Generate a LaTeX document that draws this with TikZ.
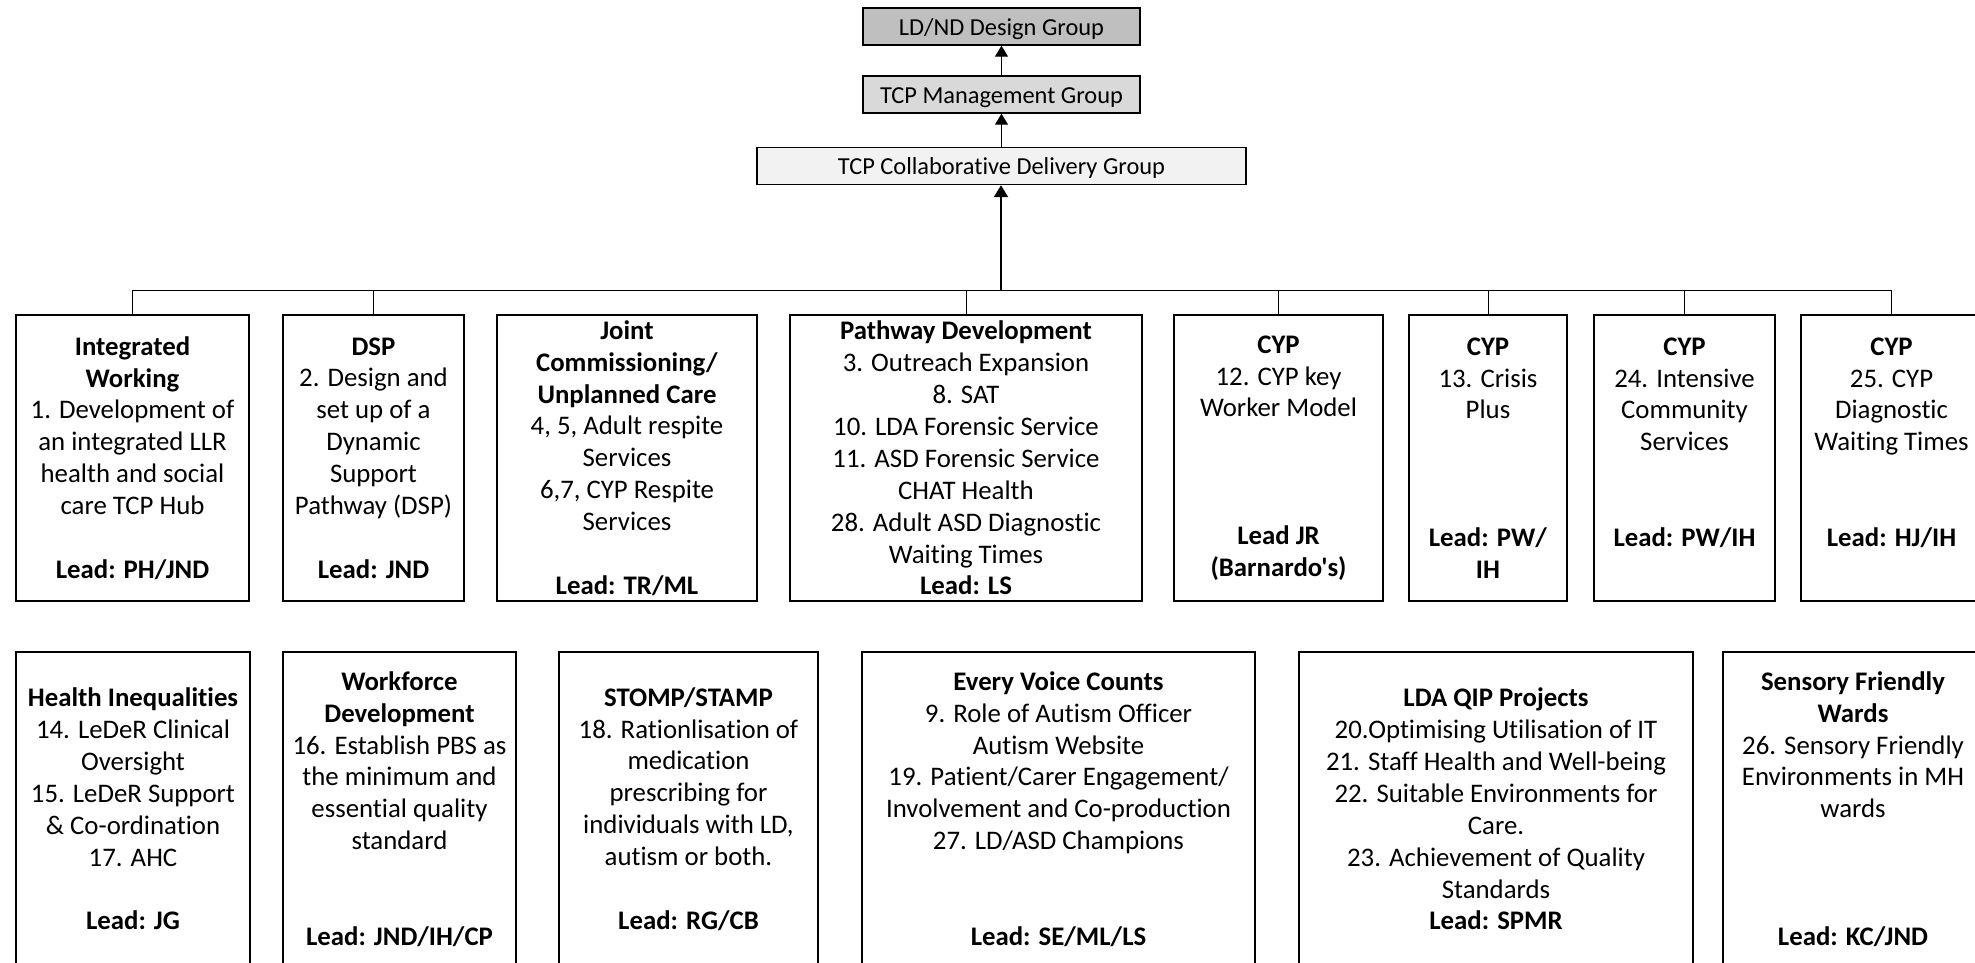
\documentclass[tikz,border=0pt]{standalone}
\usepackage{fontspec}
\setmainfont{Carlito}[Ligatures={CommonOff,TeXOff}]
\usetikzlibrary{arrows.meta}

\definecolor{grpdark}{HTML}{BFBFBF}
\definecolor{grpmid}{HTML}{D9D9D9}
\definecolor{grplight}{HTML}{F2F2F2}

\tikzset{
    grpbox/.style={draw, line width=1.4pt, inner sep=0pt, minimum height=37pt,
        text height=18pt, text depth=1pt, font=\fontsize{24.4}{29.2}\selectfont},
    wsbox/.style={draw, line width=1.4pt, inner sep=0pt, align=center,
        font=\fontsize{26.8}{31.9}\selectfont},
    toprow/.style={wsbox, minimum height=286pt},
    lowrow/.style={wsbox, minimum height=314pt},
    conn/.style={line width=1pt},
    uparrow/.style={line width=1.2pt, -{Triangle[width=13pt,length=11pt]}},
}

\begin{document}
\begin{tikzpicture}[x=1pt, y=-1pt]
    \useasboundingbox (0,0) rectangle (1975,962);
    \clip (0,0) rectangle (1975,962);

    % governance groups
    \node[grpbox, fill=grpdark, minimum width=277pt] (ldnd) at (1001.5,26.5) {LD/ND Design Group};
    \node[grpbox, fill=grpmid, minimum width=277pt] (mgmt) at (1001.5,94.5) {TCP Management Group};
    \node[grpbox, fill=grplight, minimum width=489pt] (collab) at (1001.5,166) {TCP Collaborative Delivery Group};

    \draw[uparrow] (mgmt) -- (ldnd);
    \draw[uparrow] (collab) -- (mgmt);

    % workstreams, first row
    \node[toprow, minimum width=233pt] (w1) at (132.5,458)
        {\textbf{Integrated}\\ \textbf{Working}\\ 1. Development of\\ an integrated LLR\\
         health and social\\ care TCP Hub\\ ~\\ \textbf{Lead: PH/JND}};
    \node[toprow, minimum width=181pt] (w2) at (373.5,458)
        {\textbf{DSP}\\ 2. Design and\\ set up of a\\ Dynamic\\ Support\\ Pathway (DSP)\\ ~\\
         \textbf{Lead: JND}};
    \node[toprow, minimum width=260pt] (w3) at (627,458)
        {\textbf{Joint}\\ \textbf{Commissioning/}\\ \textbf{Unplanned Care}\\ 4, 5, Adult respite\\
         Services\\ 6,7, CYP Respite\\ Services\\ ~\\ \textbf{Lead: TR/ML}};
    \node[toprow, minimum width=352pt] (w4) at (966,458)
        {\textbf{Pathway Development}\\ 3. Outreach Expansion\\ 8. SAT\\ 10. LDA Forensic Service\\
         11. ASD Forensic Service\\ CHAT Health\\ 28. Adult ASD Diagnostic\\ Waiting Times\\
         \textbf{Lead: LS}};
    \node[toprow, minimum width=209pt] (w5) at (1278.5,458)
        {\textbf{CYP}\\ 12. CYP key\\ Worker Model\\ ~\\ ~\\ ~\\ \textbf{Lead JR}\\ \textbf{(Barnardo's)}};
    \node[toprow, minimum width=158pt] (w6) at (1488,458)
        {\textbf{CYP}\\ 13. Crisis\\ Plus\\ ~\\ ~\\ ~\\ \textbf{Lead: PW/}\\ \textbf{IH}};
    \node[toprow, minimum width=181pt] (w7) at (1684.5,458)
        {\textbf{CYP}\\ 24. Intensive\\ Community\\ Services\\ ~\\ ~\\ \textbf{Lead: PW/IH}\\ ~};
    \node[toprow, minimum width=181pt] (w8) at (1891.5,458)
        {\textbf{CYP}\\ 25. CYP\\ Diagnostic\\ Waiting Times\\ ~\\ ~\\ \textbf{Lead: HJ/IH}\\ ~};

    % workstreams, second row
    \node[lowrow, minimum width=234pt] (b1) at (133,809)
        {\textbf{Health Inequalities}\\ 14. LeDeR Clinical\\ Oversight\\ 15. LeDeR Support\\
         \& Co-ordination\\ 17. AHC\\ ~\\ \textbf{Lead: JG}};
    \node[lowrow, minimum width=233pt] (b2) at (399.5,809)
        {\textbf{Workforce}\\ \textbf{Development}\\ 16. Establish PBS as\\ the minimum and\\
         essential quality\\ standard\\ ~\\ ~\\ \textbf{Lead: JND/IH/CP}};
    \node[lowrow, minimum width=259pt] (b3) at (688.5,809)
        {\textbf{STOMP/STAMP}\\ 18. Rationlisation of\\ medication\\ prescribing for\\
         individuals with LD,\\ autism or both.\\ ~\\ \textbf{Lead: RG/CB}};
    \node[lowrow, minimum width=393pt] (b4) at (1058.5,809)
        {\textbf{Every Voice Counts}\\ 9. Role of Autism Officer\\ Autism Website\\
         19. Patient/Carer Engagement/\\ Involvement and Co-production\\ 27. LD/ASD Champions\\
         ~\\ ~\\ \textbf{Lead: SE/ML/LS}};
    \node[lowrow, minimum width=394pt] (b5) at (1496,809)
        {\textbf{LDA QIP Projects}\\ 20.Optimising Utilisation of IT\\ 21. Staff Health and Well-being\\
         22. Suitable Environments for\\ Care.\\ 23. Achievement of Quality\\ Standards\\
         \textbf{Lead: SPMR}};
    \node[lowrow, minimum width=260pt] (b6) at (1853,809)
        {\textbf{Sensory Friendly}\\ \textbf{Wards}\\ 26. Sensory Friendly\\ Environments in MH\\
         wards\\ ~\\ ~\\ ~\\ \textbf{Lead: KC/JND}};

    % bus to the delivery group
    \coordinate (bus) at (1001,290);
    \draw[conn] (w1.north |- bus) -- (w8.north |- bus);
    \foreach \n in {w1,w2,w4,w5,w6,w7,w8}
        \draw[conn] (\n.north) -- (\n.north |- bus);
    \draw[uparrow, line width=2pt, -{Triangle[width=14pt,length=12pt]}] (bus) -- (collab.south -| bus);
\end{tikzpicture}
\end{document}
